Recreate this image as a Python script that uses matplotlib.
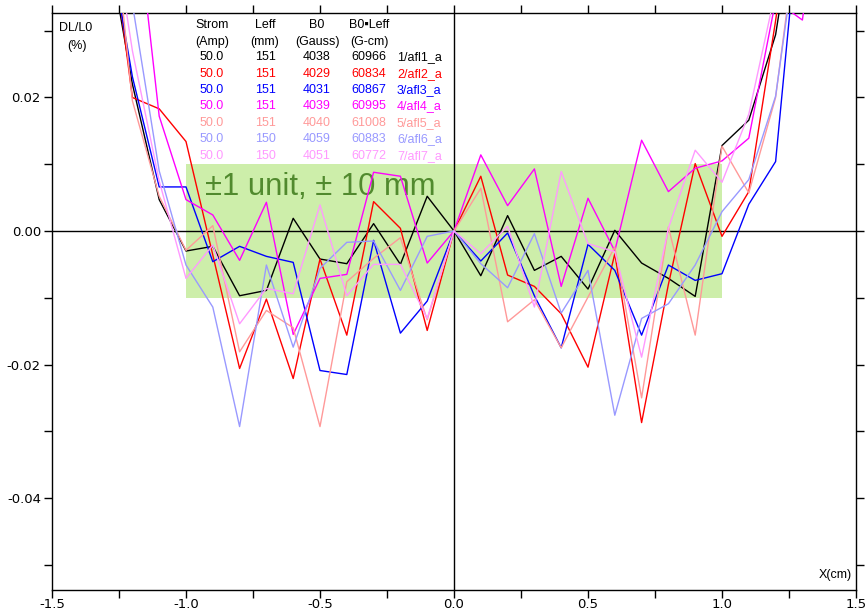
import numpy as np
import matplotlib
matplotlib.use("Agg")
import matplotlib.pyplot as plt
from matplotlib.ticker import MultipleLocator, FuncFormatter

nan = np.nan
x = [-1.3, -1.2, -1.1, -1.0, -0.9, -0.8, -0.7, -0.6, -0.5, -0.4, -0.3, -0.2, -0.1, 0.0,
     0.1, 0.2, 0.3, 0.4, 0.5, 0.6, 0.7, 0.8, 0.9, 1.0, 1.1, 1.2, 1.3, 1.4]

afl1 = [0.045, 0.022, 0.0047, -0.0030, -0.0023, -0.0097, -0.0089, 0.0019, -0.0042, -0.0049, 0.0011, -0.0050, 0.0052, 0.0,
        -0.0067, 0.0023, -0.0059, -0.0038, -0.0087, 0.0001, -0.0048, -0.0071, -0.0098, 0.0128, 0.0166, 0.0294, 0.055, nan]
afl2 = [0.051, 0.0200, 0.0183, 0.0134, -0.0036, -0.0206, -0.0102, -0.0221, -0.0042, -0.0156, 0.0044, 0.0004, -0.0149, 0.0,
        0.0082, -0.0066, -0.0083, -0.0124, -0.0204, -0.0034, -0.0287, -0.0080, 0.0101, -0.0008, 0.0059, 0.0315, 0.060, nan]
afl3 = [0.0465, 0.0231, 0.0066, 0.0066, -0.0046, -0.0023, -0.0038, -0.0047, -0.0209, -0.0215, -0.0014, -0.0153, -0.0105, 0.0,
        -0.0045, -0.0003, -0.0097, -0.0175, -0.0020, -0.0059, -0.0156, -0.0051, -0.0074, -0.0064, 0.0040, 0.0104, 0.0525, nan]
afl4 = [0.080, 0.053, 0.0172, 0.0047, 0.0024, -0.0044, 0.0043, -0.0155, -0.0071, -0.0065, 0.0088, 0.0082, -0.0048, 0.0,
        0.0114, 0.0038, 0.0093, -0.0083, 0.0049, -0.0030, 0.0136, 0.0059, 0.0094, 0.0105, 0.0139, 0.0345, 0.0316, 0.062]
afl5 = [0.058, 0.0195, 0.0052, -0.0029, 0.0008, -0.0181, -0.0119, -0.0145, -0.0293, -0.0076, -0.0041, -0.0010, -0.0133, 0.0,
        0.0064, -0.0136, -0.0103, -0.0175, -0.0099, -0.0024, -0.0250, 0.0006, -0.0156, 0.0127, 0.0057, 0.0200, 0.051, nan]
afl6 = [0.060, 0.034, 0.0090, -0.0051, -0.0114, -0.0293, -0.0051, -0.0174, -0.0056, -0.0017, -0.0015, -0.0089, -0.0008, 0.0,
        -0.0049, -0.0085, -0.0004, -0.0123, -0.0059, -0.0276, -0.0131, -0.0109, -0.0051, 0.0029, 0.0077, 0.0202, 0.049, nan]
afl7 = [0.053, 0.027, 0.0075, -0.0071, -0.0021, -0.0139, -0.0086, -0.0094, 0.0039, -0.0097, -0.0050, -0.0050, -0.0131, 0.0,
        -0.0034, 0.0007, -0.0114, 0.0089, -0.0019, -0.0031, -0.0189, 0.0004, 0.0121, 0.0073, 0.0175, 0.036, 0.060, nan]

series = [afl1, afl2, afl3, afl4, afl5, afl6, afl7]
colors = ["#000000", "#ff0000", "#0000ff", "#ff00ff", "#ff9999", "#9999ff", "#ff99ff"]

strom = ["50.0"] * 7
leff = ["151", "151", "151", "151", "151", "150", "150"]
b0 = ["4038", "4029", "4031", "4039", "4040", "4059", "4051"]
b0leff = ["60966", "60834", "60867", "60995", "61008", "60883", "60772"]
names = ["1/afl1_a", "2/afl2_a", "3/afl3_a", "4/afl4_a", "5/afl5_a", "6/afl6_a", "7/afl7_a"]

W, H = 867, 612
fig = plt.figure(figsize=(W / 100, H / 100), dpi=100)
ax = fig.add_axes([52 / W, 1 - 590 / H, (856 - 52) / W, (590 - 13.3) / H])

ax.set_xlim(-1.5, 1.5)
ax.set_ylim(-0.05378, 0.03261)

# tolerance band
ax.fill_between([-1.0, 1.0], [-0.01, -0.01], [0.01, 0.01], color="#cdeeaa", lw=0, zorder=0)
ax.text(-0.93, 0.0066, "±1 unit, ± 10 mm", fontsize=22.3, color="#518a2e",
        family="Liberation Sans", va="center", ha="left", zorder=1)

ax.axhline(0, color="black", lw=1.0, zorder=2)
ax.axvline(0, color="black", lw=1.0, zorder=2)

for s, c in zip(series, colors):
    ax.plot(x, s, color=c, lw=1.0, zorder=3)

# ticks
ax.xaxis.set_major_locator(MultipleLocator(0.5))
ax.xaxis.set_minor_locator(MultipleLocator(0.25))
ax.yaxis.set_major_locator(MultipleLocator(0.02))
ax.yaxis.set_minor_locator(MultipleLocator(0.01))
ax.xaxis.set_major_formatter(FuncFormatter(lambda v, p: f"{v:.1f}"))
ax.yaxis.set_major_formatter(FuncFormatter(lambda v, p: f"{v:.2f}"))
for which in ("major", "minor"):
    ax.tick_params(which=which, direction="out", length=6, width=1.0,
                   top=True, right=True, labelsize=9.5, pad=2)
ax.tick_params(axis="x", which="major", pad=0)
for sp in ax.spines.values():
    sp.set_linewidth(1.0)

# header texts
def py2y(py):
    return (231 - py) / 6675.0

def px2x(px):
    return (px - 454) / 268.0

fs = 9
ff = "Liberation Sans"
ax.text(px2x(76), py2y(28), "DL/L0", fontsize=fs, family=ff, ha="center", va="center")
ax.text(px2x(77), py2y(46), "(%)", fontsize=fs, family=ff, ha="center", va="center")
ax.text(px2x(852), py2y(575), "X(cm)", fontsize=fs, family=ff, ha="right", va="center")

cols = [212, 265, 317, 369]
heads1 = ["Strom", "Leff", "B0", "B0▪Leff"]
heads2 = ["(Amp)", "(mm)", "(Gauss)", "(G-cm)"]
for cx, h1, h2 in zip(cols, heads1, heads2):
    ax.text(px2x(cx), py2y(25), h1, fontsize=fs, family=[ff, "DejaVu Sans"], ha="center", va="center")
    ax.text(px2x(cx), py2y(41.7), h2, fontsize=fs, family=ff, ha="center", va="center")

row_py = 57.3
for i in range(7):
    py = row_py + i * 16.4
    c = colors[i]
    ax.text(px2x(cols[0]), py2y(py), strom[i], fontsize=fs, family=ff, ha="center", va="center", color=c)
    ax.text(px2x(cols[1]), py2y(py), leff[i], fontsize=fs, family=ff, ha="center", va="center", color=c)
    ax.text(px2x(cols[2]), py2y(py), b0[i], fontsize=fs, family=ff, ha="center", va="center", color=c)
    ax.text(px2x(cols[3]), py2y(py), b0leff[i], fontsize=fs, family=ff, ha="center", va="center", color=c)
    ax.text(px2x(397), py2y(py), names[i], fontsize=fs, family=ff, ha="left", va="center", color=c)

fig.savefig("out.png", dpi=100)
